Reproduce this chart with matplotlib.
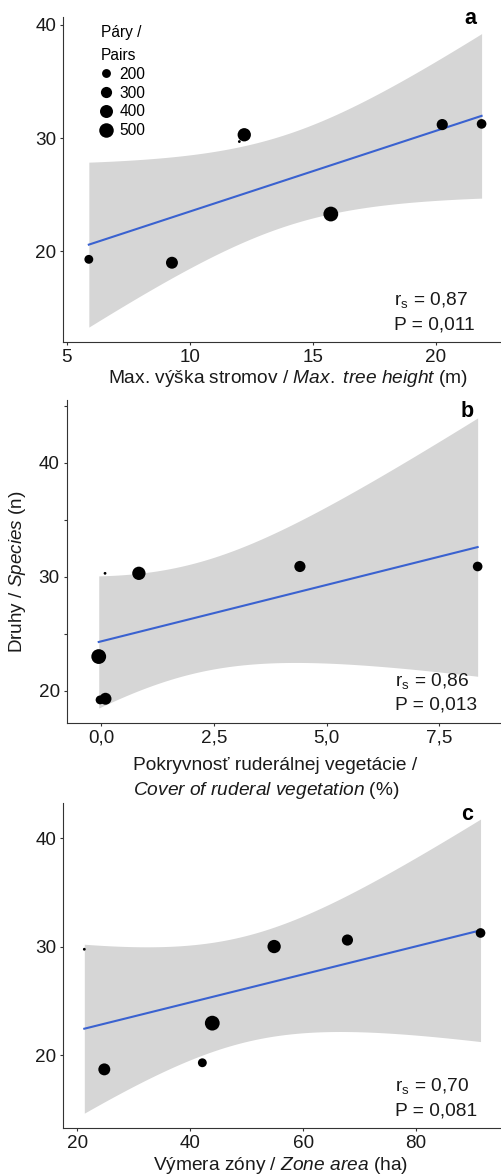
import numpy as np
import matplotlib
matplotlib.use("Agg")
import matplotlib.pyplot as plt
from matplotlib.lines import Line2D

plt.rcParams['font.family'] = ['Liberation Sans', 'DejaVu Sans']
plt.rcParams['mathtext.fontset'] = 'custom'
plt.rcParams['mathtext.rm'] = 'Liberation Sans'
plt.rcParams['mathtext.it'] = 'Liberation Sans:italic'
plt.rcParams['mathtext.bf'] = 'Liberation Sans:bold'

# sites A..G, number of breeding pairs (marker size)
pairs = [90, 420, 300, 230, 520, 340, 200]
legend_pairs = [200, 300, 400, 500]

# species count per site (as plotted, with jitter) for each predictor
tree_height = [12.02, 12.22, 20.27, 21.87, 15.74, 9.28, 5.90]
species_a = [29.7, 30.3, 31.2, 31.26, 23.3, 19.0, 19.3]

ruderal_cover = [0.09, 0.84, 4.41, 8.35, -0.05, 0.10, -0.02]
species_b = [30.3, 30.3, 30.9, 30.9, 23.0, 19.3, 19.2]

zone_area = [21.24, 54.85, 67.83, 91.4, 43.9, 24.78, 42.14]
species_c = [29.75, 30.0, 30.6, 31.25, 22.94, 18.68, 19.29]

stats = [("0,87", "0,011"), ("0,86", "0,013"), ("0,70", "0,081")]

T95 = 2.570582  # t quantile, df = 5
P_MIN, P_MAX = min(pairs), max(pairs)
D_MIN, D_MAX = 2.8, 14.8  # dot diameter in px


def dot_px(p):
    return D_MIN + (D_MAX - D_MIN) * np.sqrt((np.asarray(p, float) - P_MIN) / (P_MAX - P_MIN))


def fit_band(x, y, n=80):
    x = np.asarray(x, float)
    y = np.asarray(y, float)
    b, a = np.polyfit(x, y, 1)
    xs = np.linspace(x.min(), x.max(), n)
    fit = a + b * xs
    resid = y - (a + b * x)
    s = np.sqrt(np.sum(resid ** 2) / (len(x) - 2))
    se = s * np.sqrt(1 / len(x) + (xs - x.mean()) ** 2 / np.sum((x - x.mean()) ** 2))
    return xs, fit, fit - T95 * se, fit + T95 * se


W, H = 502, 1176
fig = plt.figure(figsize=(W / 100, H / 100), dpi=100)


def px_axes(left, top, right, bottom):
    return fig.add_axes([left / W, 1 - bottom / H, (right - left) / W, (bottom - top) / H])


ax_a = px_axes(63, 17, 502, 342)
ax_b = px_axes(66.7, 400, 502, 722.7)
ax_c = px_axes(63.3, 803.3, 502, 1128.3)

panels = [
    (ax_a, tree_height, species_a, (4.85, 22.7), (12.0, 40.7)),
    (ax_b, ruderal_cover, species_b, (-0.76, 8.89), (17.2, 45.5)),
    (ax_c, zone_area, species_c, (17.52, 95.2), (13.25, 43.2)),
]

txt = '#1a1a1a'
for i, (ax, x, y, xl, yl) in enumerate(panels):
    xs, fit, lo, hi = fit_band(x, y)
    ax.fill_between(xs, lo, hi, color='#d6d6d6', lw=0, zorder=1)
    ax.plot(xs, fit, color='#3a62d0', lw=1.5, zorder=2)
    ax.scatter(x, y, s=(dot_px(pairs) * 0.72) ** 2, color='black', lw=0, zorder=3)
    ax.set_xlim(*xl)
    ax.set_ylim(*yl)
    for side in ['top', 'right']:
        ax.spines[side].set_visible(False)
    for side in ['left', 'bottom']:
        ax.spines[side].set_color('#333333')
        ax.spines[side].set_linewidth(0.8)
    ax.tick_params(length=2.5, width=0.8, color='#333333', labelsize=13.6,
                   labelcolor=txt, pad=2.5)
    rs, p = stats[i]
    ax.text(0.755, 0.115, r"r$_\mathrm{s}$ = " + rs, fontsize=13.8, transform=ax.transAxes,
            ha='left', va='baseline', color=txt)
    ax.text(0.755, 0.04, "P = " + p, fontsize=13.8, transform=ax.transAxes,
            ha='left', va='baseline', color=txt)

# panel letters
ax_a.text(0.928, 0.979, "a", fontsize=15.5, fontweight='bold', transform=ax_a.transAxes,
          ha='center', va='baseline')
ax_b.text(0.919, 0.947, "b", fontsize=15.5, fontweight='bold', transform=ax_b.transAxes,
          ha='center', va='baseline')
ax_c.text(0.920, 0.950, "c", fontsize=15.5, fontweight='bold', transform=ax_c.transAxes,
          ha='center', va='baseline')

ax_a.set_xticks([5, 10, 15, 20])
ax_a.set_yticks([20, 30, 40])
ax_b.set_xticks([0, 2.5, 5, 7.5])
ax_b.set_xticklabels(["0,0", "2,5", "5,0", "7,5"])
ax_b.set_yticks([20, 25, 30, 35, 40, 45])
ax_b.set_yticklabels(["20", "", "30", "", "40", ""])
ax_c.set_xticks([20, 40, 60, 80])
ax_c.set_yticks([20, 30, 40])

lab = dict(fontsize=13.8, ha='center', va='baseline', color=txt)
ax_a.text(0.5125, -0.125, r"Max. výška stromov / $\it{Max.\ tree\ height}$ (m)",
          transform=ax_a.transAxes, **lab)
ax_b.text(0.4785, -0.1466, "Pokryvnosť ruderálnej vegetácie /", transform=ax_b.transAxes, **lab)
ax_b.text(0.458, -0.224, r"$\it{Cover\ of\ ruderal\ vegetation}$ (%)", transform=ax_b.transAxes, **lab)
ax_c.text(0.495, -0.128, r"Výmera zóny / $\it{Zone\ area}$ (ha)", transform=ax_c.transAxes, **lab)

ax_b.set_ylabel(r"Druhy / $\it{Species}$ (n)", fontsize=13.6, color=txt)
ax_b.yaxis.set_label_coords(-0.088, 0.468)

handles = [Line2D([], [], marker='o', ls='', color='black', mec='none',
                  markersize=dot_px(v) * 0.72) for v in legend_pairs]
leg = ax_a.legend(handles, [str(v) for v in legend_pairs], title="Páry /\nPairs",
                  loc='upper left', bbox_to_anchor=(0.068, 1.0), frameon=False,
                  fontsize=11.2, title_fontsize=11.2, labelspacing=0.24, handletextpad=0.5,
                  borderpad=0.0, handlelength=0.7, alignment='left')
leg.get_title().set_linespacing(1.7)

fig.savefig("out.png", dpi=100)
